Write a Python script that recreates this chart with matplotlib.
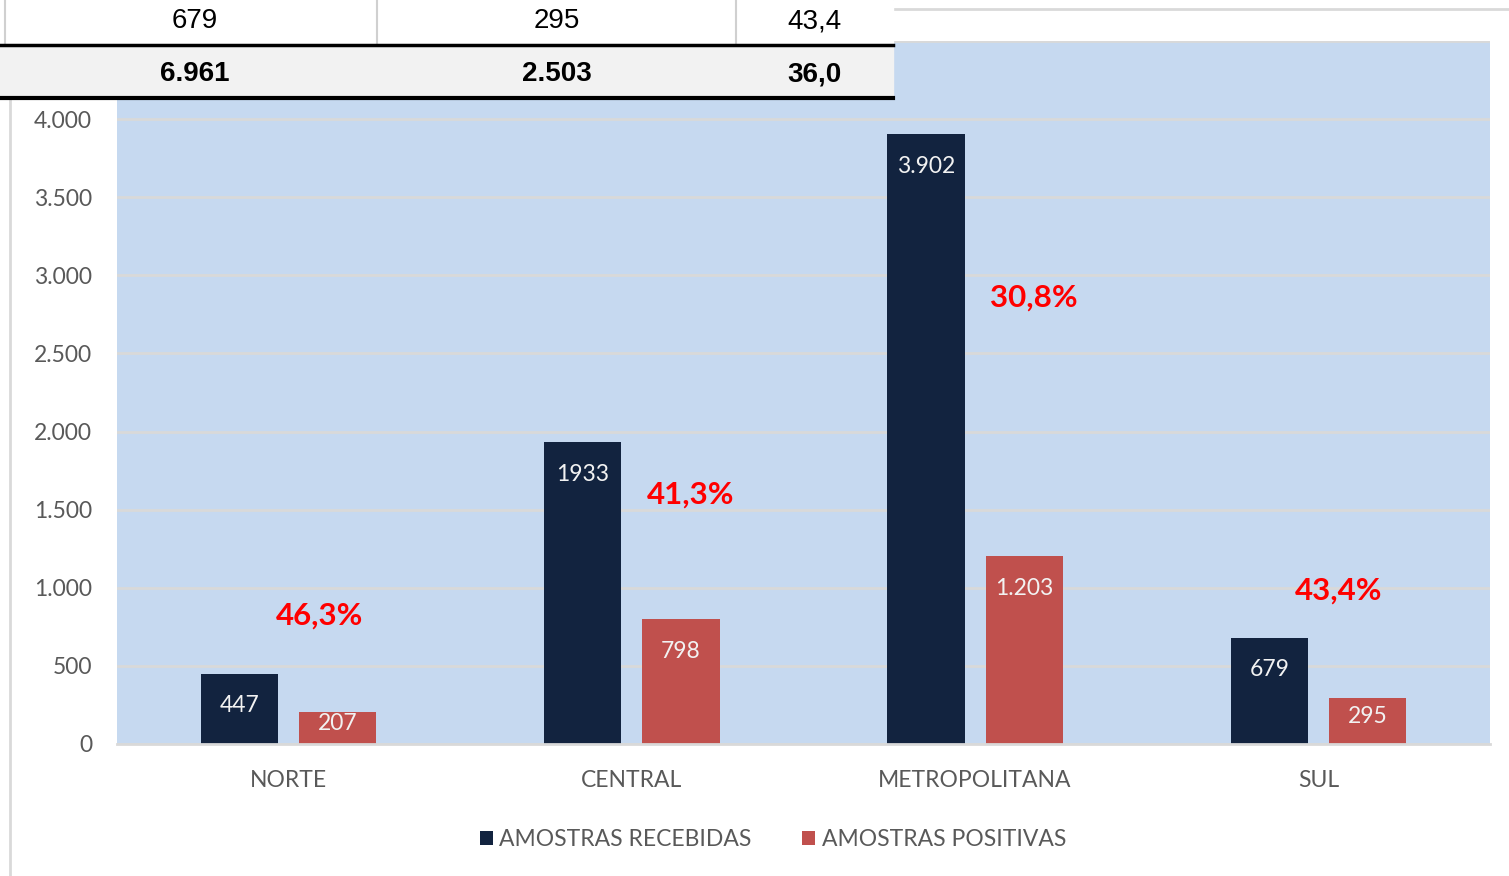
import matplotlib.pyplot as plt
from matplotlib.patches import Rectangle
from matplotlib.lines import Line2D
import numpy as np

regioes = ['NORTE', 'CENTRAL', 'METROPOLITANA', 'SUL']
recebidas = [447, 1933, 3902, 679]
positivas = [207, 798, 1203, 295]
rotulos_recebidas = ['447', '1933', '3.902', '679']
rotulos_positivas = ['207', '798', '1.203', '295']
# posicao (x, y) das caixas de percentual, em coordenadas de dados
pos_percentual = [(0.09, 820), (1.17, 1595), (2.17, 2860), (3.06, 985)]

cor_recebidas = '#12233f'
cor_positivas = '#c0504d'
cinza_texto = '#595959'
cinza_linha = '#d9d9d9'

plt.rcParams['font.family'] = ['Lato', 'DejaVu Sans']

W, H = 1509, 876
fig = plt.figure(figsize=(W / 100, H / 100), dpi=100)
fig.patch.set_facecolor('white')


def fx(x):
    return x / W


def fy(y):
    return 1 - y / H


ax = fig.add_axes([fx(117), fy(744), fx(1490) - fx(117), fy(41) - fy(744)])
ax.set_facecolor('#c6d9f0')
ax.set_xlim(-0.5, 3.5)
ax.set_ylim(0, 4500)
ax.set_yticks(np.arange(0, 4501, 500))
ax.set_yticklabels([f'{v:,.0f}'.replace(',', '.') for v in np.arange(0, 4501, 500)])
ax.yaxis.grid(True, color=cinza_linha, linewidth=2)
ax.set_axisbelow(True)
for lado in ['top', 'right', 'left']:
    ax.spines[lado].set_visible(False)
ax.spines['bottom'].set_color(cinza_linha)
ax.spines['bottom'].set_linewidth(2)
ax.tick_params(axis='y', length=0, pad=18, labelsize=16.5, labelcolor=cinza_texto)
ax.tick_params(axis='x', length=0, pad=19, labelsize=16.5, labelcolor=cinza_texto)

x = np.arange(len(regioes))
larg = 0.225
desl = 0.143
b1 = ax.bar(x - desl, recebidas, larg, color=cor_recebidas, label='AMOSTRAS RECEBIDAS')
b2 = ax.bar(x + desl, positivas, larg, color=cor_positivas, label='AMOSTRAS POSITIVAS')
ax.set_xticks(x)
ax.set_xticklabels(regioes)

# rotulos dentro da barra, perto do topo (barras baixas puxam o rotulo pra cima)
px_por_unidade = 703 / 4500
for barras, rotulos in [(b1, rotulos_recebidas), (b2, rotulos_positivas)]:
    for barra, rot in zip(barras, rotulos):
        h = barra.get_height()
        off = min(32, h * px_por_unidade / 2 - 4) * 0.72
        ax.annotate(rot, (barra.get_x() + barra.get_width() / 2, h),
                    xytext=(0, -off), textcoords='offset points',
                    ha='center', va='center', color='#f2f2f2', fontsize=16.5)

percentuais = [100 * p / r for p, r in zip(positivas, recebidas)]
for (px, py), pc in zip(pos_percentual, percentuais):
    ax.text(px, py, f'{pc:.1f}%'.replace('.', ','), color='#ff0000',
            fontsize=22.5, fontweight='bold', ha='center', va='center')

fig.legend(loc='center', bbox_to_anchor=(fx(773), fy(840)), ncol=2, frameon=False,
           fontsize=16.5, labelcolor=cinza_texto, handlelength=0.55, handleheight=0.55,
           handletextpad=0.3, columnspacing=2.2)

# linhas de grade da planilha em volta do grafico
fig.add_artist(Line2D([fx(10), fx(10)], [fy(99), fy(876)], color=cinza_linha, lw=2))
fig.add_artist(Line2D([fx(893), fx(1509)], [fy(9), fy(9)], color=cinza_linha, lw=2))
fig.add_artist(Line2D([fx(892), fx(892)], [fy(0), fy(45)], color=cinza_linha, lw=2))

# trecho da tabela sobreposto ao grafico
fig.add_artist(Rectangle((fx(0), fy(45)), fx(893), fy(0) - fy(45), color='white', zorder=5))
fig.add_artist(Rectangle((fx(0), fy(98)), fx(893), fy(45) - fy(98), color='#f2f2f2', zorder=5))
fig.add_artist(Line2D([fx(5), fx(5)], [fy(0), fy(45)], color='#d0d0d0', lw=1.5, zorder=6))
for xc in [377, 736]:
    fig.add_artist(Line2D([fx(xc), fx(xc)], [fy(0), fy(45)], color='#d0d0d0', lw=1.5, zorder=6))
fig.add_artist(Line2D([fx(0), fx(893)], [fy(45), fy(45)], color='black', lw=2.5, zorder=7))
fig.add_artist(Line2D([fx(0), fx(893)], [fy(98), fy(98)], color='black', lw=3, zorder=7))

total_rec = sum(recebidas)
total_pos = sum(positivas)
linha1 = [f'{recebidas[-1]}', f'{positivas[-1]}', f'{percentuais[-1]:.1f}'.replace('.', ',')]
linha2 = [f'{total_rec:,}'.replace(',', '.'), f'{total_pos:,}'.replace(',', '.'),
          f'{100 * total_pos / total_rec:.1f}'.replace('.', ',')]
centros = [195, 557, 814]
for xc, t1, t2 in zip(centros, linha1, linha2):
    fig.text(fx(xc), fy(21), t1, ha='center', va='center', fontsize=20,
             family='Liberation Sans', zorder=8)
    fig.text(fx(xc), fy(74), t2, ha='center', va='center', fontsize=20,
             family='Liberation Sans', fontweight='bold', zorder=8)

fig.savefig('out.png', dpi=100)
